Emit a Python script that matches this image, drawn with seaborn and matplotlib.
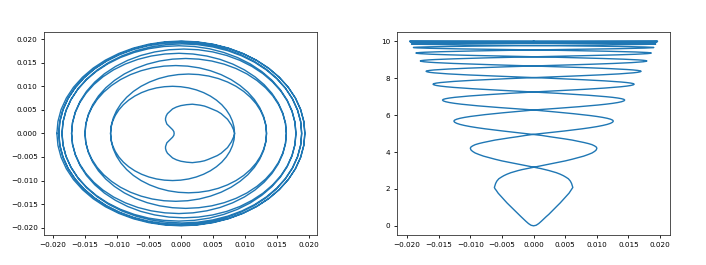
import numpy as np
import pandas as pd
import seaborn as sns
from matplotlib import pyplot as plt

# one strand of the path, from the bottom (z=0) up to z~10.
# the second strand in the picture is the same strand mirrored in y.
x_vals = [
    # kidney
    -0.00105, -0.0011, -0.0013, -0.0016, -0.0019, -0.0022, -0.0023, -0.0024, -0.0024, -0.0023,
    -0.0021, -0.0017, -0.0013, -0.0007, 0.0000, 0.0009, 0.0018, 0.0024, 0.0030, 0.0037,
    0.0043, 0.0050, 0.0057, 0.0063, 0.0068, 0.0073, 0.0076, 0.0079, 0.0081, 0.0083, 0.0084,
    # loop 2
    0.00832, 0.00807, 0.00766, 0.00710, 0.00640, 0.00556, 0.00461, 0.00355, 0.00241, 0.00121,
    -0.00003, -0.00130, -0.00257, -0.00381, -0.00501, -0.00615, -0.00721, -0.00816, -0.00900,
    -0.00970, -0.01026, -0.01067, -0.01092, -0.01100,
    # loop 3
    -0.01090, -0.01058, -0.01007, -0.00937, -0.00848, -0.00743, -0.00623, -0.00490, -0.00347,
    -0.00196, -0.00039, 0.00120, 0.00279, 0.00436, 0.00587, 0.00730, 0.00863, 0.00983,
    0.01088, 0.01177, 0.01247, 0.01298, 0.01330, 0.01340,
    # loop 4
    0.01328, 0.01292, 0.01232, 0.01150, 0.01047, 0.00924, 0.00785, 0.00630, 0.00463,
    0.00288, 0.00105, -0.00080, -0.00265, -0.00448, -0.00623, -0.00790, -0.00945, -0.01084,
    -0.01207, -0.01310, -0.01392, -0.01452, -0.01488, -0.01500,
    # loop 5
    -0.01487, -0.01446, -0.01380, -0.01289, -0.01175, -0.01039, -0.00884, -0.00713, -0.00528,
    -0.00333, -0.00131, 0.00075, 0.00281, 0.00483, 0.00678, 0.00863, 0.01034, 0.01189,
    0.01325, 0.01439, 0.01530, 0.01596, 0.01637, 0.01650,
    # loop 6
    0.01636, 0.01593, 0.01522, 0.01425, 0.01303, 0.01158, 0.00993, 0.00810, 0.00613,
    0.00405, 0.00189, -0.00030, -0.00249, -0.00465, -0.00673, -0.00870, -0.01053, -0.01218,
    -0.01363, -0.01485, -0.01582, -0.01653, -0.01696, -0.01710,
    # loop 7
    -0.01695, -0.01650, -0.01576, -0.01475, -0.01347, -0.01196, -0.01023, -0.00833, -0.00627,
    -0.00409, -0.00184, 0.00045, 0.00274, 0.00499, 0.00717, 0.00923, 0.01113, 0.01286,
    0.01437, 0.01565, 0.01666, 0.01740, 0.01785, 0.01800,
    # loop 8
    0.01784, 0.01738, 0.01661, 0.01555, 0.01422, 0.01264, 0.01084, 0.00885, 0.00670,
    0.00444, 0.00209, -0.00030, -0.00269, -0.00504, -0.00730, -0.00945, -0.01144, -0.01324,
    -0.01482, -0.01615, -0.01721, -0.01798, -0.01844, -0.01860,
    # loop 9
    -0.01844, -0.01796, -0.01717, -0.01609, -0.01473, -0.01311, -0.01127, -0.00923, -0.00703,
    -0.00470, -0.00230, 0.00015, 0.00260, 0.00500, 0.00733, 0.00953, 0.01157, 0.01341,
    0.01503, 0.01639, 0.01747, 0.01826, 0.01874, 0.01890,
    # loop 10
    0.01874, 0.01825, 0.01745, 0.01635, 0.01498, 0.01334, 0.01147, 0.00940, 0.00717,
    0.00482, 0.00238, -0.00010, -0.00258, -0.00502, -0.00737, -0.00960, -0.01167, -0.01354,
    -0.01518, -0.01655, -0.01765, -0.01845, -0.01894, -0.01910,
    # loop 11
    -0.01893, -0.01844, -0.01764, -0.01652, -0.01512, -0.01346, -0.01157, -0.00948, -0.00722,
    -0.00483, -0.00236, 0.00015, 0.00266, 0.00513, 0.00752, 0.00978, 0.01187, 0.01376,
    0.01542, 0.01682, 0.01794, 0.01874, 0.01923, 0.01940,
    # loop 12
    0.01923, 0.01874, 0.01792, 0.01680, 0.01539, 0.01372, 0.01181, 0.00970, 0.00742,
    0.00502, 0.00253, 0.00000, -0.00253, -0.00502, -0.00742, -0.00970, -0.01181, -0.01372,
    -0.01539, -0.01680, -0.01792, -0.01874, -0.01923, -0.01940,
]

y_vals = [
    # kidney
    0.0000, 0.0004, 0.0008, 0.0012, 0.0016, 0.0020, 0.0024, 0.0028, 0.0032, 0.0037,
    0.0042, 0.0047, 0.0052, 0.0056, 0.0059, 0.0061, 0.0062, 0.0061, 0.0060, 0.0058,
    0.0055, 0.0051, 0.0047, 0.0042, 0.0036, 0.0030, 0.0024, 0.0018, 0.0012, 0.0006, 0.0000,
    # loop 2
    -0.00131, -0.00259, -0.00383, -0.00500, -0.00609, -0.00707, -0.00793, -0.00866, -0.00924,
    -0.00966, -0.00991, -0.01000, -0.00991, -0.00966, -0.00924, -0.00866, -0.00793, -0.00707,
    -0.00609, -0.00500, -0.00383, -0.00259, -0.00131, 0.0,
    # loop 3
    0.00164, 0.00326, 0.00482, 0.00630, 0.00767, 0.00891, 0.01000, 0.01091, 0.01164,
    0.01217, 0.01249, 0.01260, 0.01249, 0.01217, 0.01164, 0.01091, 0.01000, 0.00891,
    0.00767, 0.00630, 0.00482, 0.00326, 0.00164, 0.0,
    # loop 4
    -0.00188, -0.00373, -0.00551, -0.00720, -0.00877, -0.01018, -0.01142, -0.01247, -0.01330,
    -0.01391, -0.01428, -0.01440, -0.01428, -0.01391, -0.01330, -0.01247, -0.01142, -0.01018,
    -0.00877, -0.00720, -0.00551, -0.00373, -0.00188, 0.0,
    # loop 5
    0.00207, 0.00411, 0.00608, 0.00795, 0.00968, 0.01124, 0.01262, 0.01377, 0.01469,
    0.01536, 0.01576, 0.01590, 0.01576, 0.01536, 0.01469, 0.01377, 0.01262, 0.01124,
    0.00968, 0.00795, 0.00608, 0.00411, 0.00207, 0.0,
    # loop 6
    -0.00222, -0.00440, -0.00651, -0.00850, -0.01035, -0.01202, -0.01349, -0.01472, -0.01571,
    -0.01642, -0.01685, -0.01700, -0.01685, -0.01642, -0.01571, -0.01472, -0.01349, -0.01202,
    -0.01035, -0.00850, -0.00651, -0.00440, -0.00222, 0.0,
    # loop 7
    0.00234, 0.00463, 0.00685, 0.00895, 0.01090, 0.01266, 0.01420, 0.01550, 0.01654,
    0.01729, 0.01775, 0.01790, 0.01775, 0.01729, 0.01654, 0.01550, 0.01420, 0.01266,
    0.01090, 0.00895, 0.00685, 0.00463, 0.00234, 0.0,
    # loop 8
    -0.00243, -0.00481, -0.00712, -0.00930, -0.01132, -0.01315, -0.01476, -0.01611, -0.01718,
    -0.01797, -0.01844, -0.01860, -0.01844, -0.01797, -0.01718, -0.01611, -0.01476, -0.01315,
    -0.01132, -0.00930, -0.00712, -0.00481, -0.00243, 0.0,
    # loop 9
    0.00248, 0.00492, 0.00727, 0.00950, 0.01157, 0.01343, 0.01507, 0.01645, 0.01755,
    0.01835, 0.01884, 0.01900, 0.01884, 0.01835, 0.01755, 0.01645, 0.01507, 0.01343,
    0.01157, 0.00950, 0.00727, 0.00492, 0.00248, 0.0,
    # loop 10
    -0.00252, -0.00499, -0.00739, -0.00965, -0.01175, -0.01365, -0.01531, -0.01671, -0.01783,
    -0.01864, -0.01913, -0.01930, -0.01913, -0.01864, -0.01783, -0.01671, -0.01531, -0.01365,
    -0.01175, -0.00965, -0.00739, -0.00499, -0.00252, 0.0,
    # loop 11
    0.00254, 0.00505, 0.00746, 0.00975, 0.01187, 0.01379, 0.01547, 0.01689, 0.01802,
    0.01884, 0.01933, 0.01950, 0.01933, 0.01884, 0.01802, 0.01689, 0.01547, 0.01379,
    0.01187, 0.00975, 0.00746, 0.00505, 0.00254, 0.0,
    # loop 12
    -0.00256, -0.00507, -0.00750, -0.00980, -0.01193, -0.01386, -0.01555, -0.01697, -0.01811,
    -0.01893, -0.01943, -0.01960, -0.01943, -0.01893, -0.01811, -0.01697, -0.01555, -0.01386,
    -0.01193, -0.00980, -0.00750, -0.00507, -0.00256, 0.0,
]

z_vals = [
    # kidney
    0.00, 0.03, 0.12, 0.24, 0.37, 0.50, 0.62, 0.76, 0.90, 1.07,
    1.24, 1.43, 1.62, 1.77, 1.92, 2.01, 2.08, 2.19, 2.30, 2.43,
    2.55, 2.64, 2.72, 2.80, 2.88, 2.94, 3.00, 3.05, 3.10, 3.14, 3.18,
    # loop 2
    3.27, 3.35, 3.44, 3.52, 3.61, 3.70, 3.78, 3.87, 3.95, 4.04, 4.12, 4.21,
    4.27, 4.33, 4.40, 4.46, 4.52, 4.58, 4.65, 4.71, 4.77, 4.83, 4.90, 4.96,
    # loop 3
    5.02, 5.08, 5.14, 5.20, 5.26, 5.32, 5.38, 5.44, 5.50, 5.56, 5.62, 5.68,
    5.73, 5.78, 5.83, 5.88, 5.93, 5.98, 6.03, 6.08, 6.13, 6.18, 6.23, 6.28,
    # loop 4
    6.325, 6.37, 6.415, 6.46, 6.505, 6.55, 6.595, 6.64, 6.685, 6.73, 6.775, 6.82,
    6.857, 6.893, 6.93, 6.967, 7.003, 7.04, 7.077, 7.113, 7.15, 7.187, 7.223, 7.26,
    # loop 5
    7.295, 7.33, 7.365, 7.40, 7.435, 7.47, 7.505, 7.54, 7.575, 7.61, 7.645, 7.68,
    7.71, 7.74, 7.77, 7.80, 7.83, 7.86, 7.89, 7.92, 7.95, 7.98, 8.01, 8.04,
    # loop 6
    8.068, 8.097, 8.125, 8.153, 8.182, 8.21, 8.238, 8.267, 8.295, 8.323, 8.352, 8.38,
    8.404, 8.428, 8.453, 8.477, 8.501, 8.525, 8.549, 8.573, 8.598, 8.622, 8.646, 8.67,
    # loop 7
    8.693, 8.715, 8.738, 8.76, 8.783, 8.805, 8.828, 8.85, 8.873, 8.895, 8.918, 8.94,
    8.959, 8.978, 8.998, 9.017, 9.036, 9.055, 9.074, 9.093, 9.113, 9.132, 9.151, 9.17,
    # loop 8
    9.187, 9.203, 9.22, 9.237, 9.253, 9.27, 9.287, 9.303, 9.32, 9.337, 9.353, 9.37,
    9.384, 9.398, 9.413, 9.427, 9.441, 9.455, 9.469, 9.483, 9.498, 9.512, 9.526, 9.54,
    # loop 9
    9.551, 9.562, 9.573, 9.583, 9.594, 9.605, 9.616, 9.627, 9.638, 9.648, 9.659, 9.67,
    9.679, 9.688, 9.698, 9.707, 9.716, 9.725, 9.734, 9.743, 9.752, 9.762, 9.771, 9.78,
    # loop 10
    9.787, 9.793, 9.80, 9.807, 9.813, 9.82, 9.827, 9.833, 9.84, 9.847, 9.853, 9.86,
    9.865, 9.87, 9.875, 9.88, 9.885, 9.89, 9.895, 9.90, 9.905, 9.91, 9.915, 9.92,
    # loop 11
    9.923, 9.927, 9.93, 9.933, 9.937, 9.94, 9.943, 9.947, 9.95, 9.953, 9.957, 9.96,
    9.962, 9.965, 9.968, 9.97, 9.972, 9.975, 9.978, 9.98, 9.982, 9.985, 9.988, 9.99,
    # loop 12
    9.992, 9.993, 9.995, 9.997, 9.998, 10.0, 10.002, 10.003, 10.005, 10.007, 10.008, 10.01,
    10.011, 10.012, 10.012, 10.013, 10.014, 10.015, 10.016, 10.017, 10.018, 10.018, 10.019, 10.02,
]

xy_ticks = [-0.020, -0.015, -0.010, -0.005, 0.000, 0.005, 0.010, 0.015, 0.020]
z_ticks = [0, 2, 4, 6, 8, 10]


def full_path(vals, flip):
    # mirrored strand walked backwards down to the bottom, then the strand back up
    vals = np.array(vals)
    back = -vals[::-1] if flip else vals[::-1]
    return np.concatenate([back, vals[1:]])


if __name__ == '__main__':
    df = pd.DataFrame({
        'x': full_path(x_vals, False),
        'y': full_path(y_vals, True),
        'z': full_path(z_vals, False),
    })

    plt.rcParams['font.family'] = ['DejaVu Sans']
    plt.rcParams['font.size'] = 5.2
    plt.rcParams['axes.linewidth'] = 0.6
    plt.rcParams['axes.edgecolor'] = '#333333'
    for ax_name in ['xtick', 'ytick']:
        plt.rcParams[ax_name + '.major.size'] = 2.4
        plt.rcParams[ax_name + '.major.width'] = 0.6
        plt.rcParams[ax_name + '.major.pad'] = 2.5
        plt.rcParams[ax_name + '.labelsize'] = 5.2

    fig, axes = plt.subplots(1, 2, figsize=(7.06, 2.65), dpi=100)

    sns.lineplot(data=df, x='x', y='y', sort=False, estimator=None,
                 color='#1f77b4', linewidth=1.0, ax=axes[0])
    sns.lineplot(data=df, x='y', y='z', sort=False, estimator=None,
                 color='#1f77b4', linewidth=1.0, ax=axes[1])

    axes[0].set_xticks(xy_ticks)
    axes[0].set_yticks(xy_ticks)
    axes[1].set_xticks(xy_ticks)
    axes[1].set_yticks(z_ticks)

    for ax in axes:
        ax.set_xlabel('')
        ax.set_ylabel('')

    plt.subplots_adjust(left=0.063, right=0.949, bottom=0.113, top=0.880, wspace=0.293)
    plt.savefig('out.png', dpi=100)
    plt.close()
